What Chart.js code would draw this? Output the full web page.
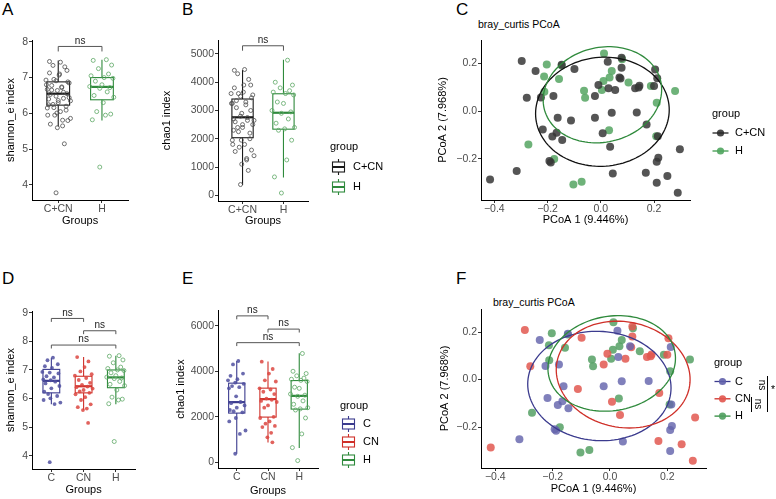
<!DOCTYPE html>
<html>
<head>
<meta charset="utf-8">
<title>alpha and beta diversity</title>
<script src="https://cdn.jsdelivr.net/npm/chart.js@4.4.1/dist/chart.umd.min.js"></script>
<style>
  body { margin: 0; width: 776px; height: 499px; position: relative; overflow: hidden; background: #fff;
         font-family: "Liberation Sans", Arial, sans-serif; }
  canvas { position: absolute; }
  .tag { position: absolute; font-size: 17px; line-height: 17px; color: #000; }
  .sub { position: absolute; font-size: 10.5px; line-height: 12px; color: #000; white-space: nowrap; }
  .bar { position: absolute; width: 1px; background: #000; }
  .rot { position: absolute; width: 14px; height: 10px; font-size: 10px; line-height: 10px; text-align: center;
         transform: rotate(90deg); white-space: nowrap; color: #000; }
</style>
</head>
<body>
<div class="tag" style="left:2px;top:1px">A</div>
<div class="tag" style="left:182px;top:1px">B</div>
<div class="tag" style="left:456px;top:1px">C</div>
<div class="tag" style="left:2px;top:270px">D</div>
<div class="tag" style="left:182px;top:270px">E</div>
<div class="tag" style="left:456px;top:270px">F</div>
<div class="sub" style="left:478px;top:18px">bray_curtis PCoA</div>
<div class="sub" style="left:493px;top:296px">bray_curtis PCoA</div>

<canvas id="chartA"></canvas>
<canvas id="chartB"></canvas>
<canvas id="chartC"></canvas>
<canvas id="chartD"></canvas>
<canvas id="chartE"></canvas>
<canvas id="chartF"></canvas>

<!-- pairwise test marks next to the F legend -->
<div class="bar" style="left:751px;top:397px;height:15px"></div>
<div class="bar" style="left:767px;top:376px;height:36px"></div>
<div class="rot" style="left:751px;top:399px">ns</div>
<div class="rot" style="left:755px;top:380px">ns</div>
<div class="sub" style="left:771px;top:383px">*</div>

<script>
var groups2 = ['C+CN', 'H'];
var groups3 = ['C', 'CN', 'H'];

// alpha diversity per sample
var shannonC  = [7.43, 7.34, 7.2, 7.13, 7.07, 6.93, 6.91, 6.88, 6.78, 6.74, 6.67, 6.64, 6.59, 6.53, 6.44, 6.36, 6.24, 6.16, 6.09, 6.01, 5.95, 5.86, 5.81, 3.78];
var shannonCN = [7.45, 7.3, 7.1, 6.95, 6.85, 6.8, 6.72, 6.65, 6.55, 6.48, 6.42, 6.4, 6.35, 6.3, 6.25, 6.2, 6.15, 6.05, 5.95, 5.8, 5.7, 5.65, 5.6, 5.15];
var shannonH  = [7.5, 7.48, 7.35, 7.25, 7.1, 7.05, 7.0, 6.98, 6.9, 6.8, 6.75, 6.72, 6.7, 6.6, 6.5, 6.45, 6.3, 6.05, 5.98, 5.95, 5.82, 4.5];
var chaoC  = [4450, 4300, 3900, 3800, 3650, 3600, 3500, 3450, 3350, 3300, 3250, 2900, 2650, 2600, 2500, 2400, 2300, 2250, 2200, 1950, 1800, 1400, 1250, 380];
var chaoCN = [4420, 4100, 3900, 3600, 3550, 3250, 3200, 3100, 3000, 2800, 2750, 2700, 2650, 2500, 2400, 2000, 1950, 1800, 1700, 1600, 1550, 1300, 1100, 880];
var chaoH  = [4780, 4000, 3900, 3800, 3700, 3650, 3600, 3550, 3300, 3250, 3000, 2950, 2900, 2700, 2550, 2400, 2350, 2300, 1950, 1250, 650, 80];

// horizontal jitter as it fell in the figure
var jitterC  = [0.05, -0.12, 0.2, -0.2, 0.02, -0.28, -0.05, 0.22, -0.15, 0.08, -0.25, -0.02, 0.12, -0.18, 0.25, 0.0, -0.22, -0.1, 0.18, -0.03, -0.24, 0.28, 0.1, -0.05];
var jitterCN = [-0.2, 0.15, 0.03, -0.1, 0.25, -0.27, 0.08, -0.15, 0.2, -0.05, 0.12, -0.22, 0.28, 0.0, -0.12, 0.18, -0.25, 0.05, -0.08, 0.22, -0.18, 0.1, -0.02, 0.14];
var jitterH  = [0.1, -0.2, 0.22, -0.08, 0.15, -0.25, 0.05, 0.25, -0.15, 0.0, -0.28, 0.18, -0.05, 0.12, -0.18, 0.27, 0.03, -0.12, 0.2, 0.08, -0.22, -0.05];

// box stats: [lower whisker, q1, median, q3, upper whisker]
var shannonBoxCCN = [5.63, 6.23, 6.55, 6.88, 7.48];
var shannonBoxC   = [5.8, 6.2, 6.62, 7.02, 7.43];
var shannonBoxCN  = [5.6, 6.2, 6.43, 6.78, 7.45];
var shannonBoxH   = [5.8, 6.38, 6.74, 7.0, 7.5];
var chaoBoxCCN = [364, 2037, 2759, 3406, 4432];
var chaoBoxC   = [380, 2164, 2645, 3478, 4455];
var chaoBoxCN  = [876, 1989, 2777, 3259, 4423];
var chaoBoxH   = [631, 2339, 2920, 3592, 4792];

// PCoA coordinates [PCoA1, PCoA2]
var pcoaC = [[-0.245, 0.167], [-0.225, 0.057], [-0.178, 0.063], [-0.147, 0.193], [-0.218, -0.077], [-0.182, -0.107],
  [-0.166, -0.091], [-0.162, -0.028], [-0.145, -0.121], [-0.022, -0.028], [0.026, 0.206], [0.029, 0.095],
  [0.041, -0.007], [0.045, -0.261], [0.070, 0.140], [0.135, -0.006], [0.212, 0.137], [0.214, -0.105],
  [0.210, -0.212], [0.216, -0.195], [0.210, -0.300], [-0.316, -0.251], [-0.188, -0.215], [-0.193, -0.209]];
var pcoaCN = [[-0.297, 0.209], [-0.278, 0.056], [-0.099, 0.176], [-0.112, -0.040], [-0.022, 0.063], [-0.009, 0.109],
  [0.007, -0.093], [0.054, 0.088], [0.035, -0.149], [0.078, 0.223], [0.078, 0.181], [0.129, 0.095],
  [0.145, 0.106], [0.169, -0.258], [0.172, -0.056], [0.200, 0.105], [0.204, 0.174], [0.250, -0.272],
  [0.297, -0.160], [0.289, -0.342], [-0.416, -0.286], [0.074, 0.136], [0.142, 0.098]];
var pcoaH = [[-0.203, 0.195], [-0.213, 0.144], [-0.212, 0.081], [-0.157, 0.134], [-0.147, 0.190], [-0.063, 0.085],
  [-0.059, 0.056], [-0.272, -0.140], [-0.175, -0.201], [-0.103, -0.307], [-0.072, -0.296], [0.012, 0.241],
  [0.010, 0.126], [0.004, 0.088], [0.033, 0.140], [0.041, 0.167], [0.031, -0.080], [0.104, 0.119],
  [0.188, 0.105], [0.210, 0.035], [0.208, -0.105], [0.279, 0.084], [0.080, 0.216]];

// 95% ellipses: centre, first and second half-axis vectors
var ellipseCCN = [0.006, -0.003, 0.251, 0.008, 0.0, 0.228];
var ellipseC   = [-0.037, -0.027, 0.25, -0.008, 0.0, 0.23];
var ellipseCN  = [0.046, 0.021, 0.233, -0.035, 0.015, 0.222];
var ellipseH   = [0.006, 0.068, 0.222, 0.035, -0.015, 0.198];

var shannonTicks2 = [4, 5, 6, 7, 8];
var shannonTicks3 = [4, 5, 6, 7, 8, 9];
var chaoTicks2 = [0, 1000, 2000, 3000, 4000, 5000];
var chaoTicks3 = [0, 2000, 4000, 6000];
var pcoaXTicks = [-0.4, -0.2, 0, 0.2];
var pcoaYTicks = [-0.2, 0, 0.2];

var colCCN = '#1a1a1a', colC = '#3b3b8e', colCN = '#cf3029', colH = '#2f8a3c';
var BOX_W = 0.52;

Chart.defaults.font.family = '"Liberation Sans", Arial, sans-serif';
Chart.defaults.animation = false;

var extras = {};

var extrasPlugin = {
  id: 'extras',
  beforeDatasetsDraw: function (chart) {
    var e = extras[chart.canvas.id];
    if (!e || !e.boxes) return;
    var ctx = chart.ctx, xs = chart.scales.x, ys = chart.scales.y;
    ctx.save();
    e.boxes.forEach(function (b) {
      var s = b.stats;
      var xc = xs.getPixelForValue(b.pos);
      var x0 = xs.getPixelForValue(b.pos - BOX_W / 2), x1 = xs.getPixelForValue(b.pos + BOX_W / 2);
      var p = function (v) { return ys.getPixelForValue(v); };
      ctx.strokeStyle = b.color;
      ctx.lineWidth = 1.1;
      ctx.beginPath();
      ctx.moveTo(xc, p(s[0])); ctx.lineTo(xc, p(s[1]));
      ctx.moveTo(xc, p(s[3])); ctx.lineTo(xc, p(s[4]));
      ctx.stroke();
      ctx.strokeRect(x0, p(s[3]), x1 - x0, p(s[1]) - p(s[3]));
      ctx.lineWidth = 2.2;
      ctx.beginPath(); ctx.moveTo(x0, p(s[2])); ctx.lineTo(x1, p(s[2])); ctx.stroke();
    });
    ctx.restore();
  },
  afterDatasetsDraw: function (chart) {
    var e = extras[chart.canvas.id];
    if (!e) return;
    var ctx = chart.ctx, xs = chart.scales.x, ys = chart.scales.y;
    ctx.save();
    (e.ellipses || []).forEach(function (el) {
      var p = el.par;
      ctx.strokeStyle = el.color;
      ctx.lineWidth = 1.3;
      ctx.beginPath();
      for (var i = 0; i <= 120; i++) {
        var t = i / 120 * Math.PI * 2;
        var px = xs.getPixelForValue(p[0] + p[2] * Math.cos(t) + p[4] * Math.sin(t));
        var py = ys.getPixelForValue(p[1] + p[3] * Math.cos(t) + p[5] * Math.sin(t));
        if (i === 0) ctx.moveTo(px, py); else ctx.lineTo(px, py);
      }
      ctx.stroke();
    });
    (e.brackets || []).forEach(function (b) {
      var xa = xs.getPixelForValue(b.x1), xb = xs.getPixelForValue(b.x2);
      var yt = ys.getPixelForValue(b.y), yd = ys.getPixelForValue(b.y - b.drop);
      ctx.strokeStyle = '#555';
      ctx.lineWidth = 1;
      ctx.beginPath();
      ctx.moveTo(xa, yd); ctx.lineTo(xa, yt); ctx.lineTo(xb, yt); ctx.lineTo(xb, yd);
      ctx.stroke();
      ctx.fillStyle = '#222';
      ctx.font = '10px "Liberation Sans", Arial, sans-serif';
      ctx.textAlign = 'center';
      ctx.textBaseline = 'bottom';
      ctx.fillText('ns', (xa + xb) / 2, yt - 0.5);
    });
    ctx.restore();
  },
  afterDraw: function (chart) {
    var e = extras[chart.canvas.id];
    if (!e || !e.legend) return;
    var L = e.legend, ctx = chart.ctx;
    ctx.save();
    ctx.translate(-e.ox, -e.oy);
    ctx.font = '11px "Liberation Sans", Arial, sans-serif';
    ctx.fillStyle = '#000';
    ctx.textAlign = 'left';
    ctx.textBaseline = 'middle';
    ctx.fillText('group', L.x, L.y);
    L.items.forEach(function (it, i) {
      var y = L.y0 + i * L.step, gx = L.x + L.gx;
      ctx.strokeStyle = it[1];
      if (L.type === 'box') {
        ctx.lineWidth = 1.1;
        ctx.beginPath();
        ctx.moveTo(gx, y - 8); ctx.lineTo(gx, y - 5);
        ctx.moveTo(gx, y + 5); ctx.lineTo(gx, y + 8);
        ctx.stroke();
        ctx.strokeRect(gx - 6, y - 5, 12, 10);
        ctx.lineWidth = 2;
        ctx.beginPath(); ctx.moveTo(gx - 6, y); ctx.lineTo(gx + 6, y); ctx.stroke();
      } else {
        ctx.lineWidth = 1.3;
        ctx.beginPath(); ctx.moveTo(gx - 8, y); ctx.lineTo(gx + 8, y); ctx.stroke();
        ctx.fillStyle = it[2];
        ctx.beginPath(); ctx.arc(gx, y, 3.6, 0, Math.PI * 2); ctx.fill();
      }
      ctx.fillStyle = '#000';
      ctx.fillText(it[0], L.x + L.tx, y);
    });
    ctx.restore();
  }
};
Chart.register(extrasPlugin);

function numFmt(v) { return String(v); }
function pcoaFmt(v) {
  if (Math.abs(v) < 1e-9) return '0.0';
  return (v < 0 ? '\u2212' : '') + Math.abs(v).toFixed(1);
}

function axis(pos, min, max, ticks, fmt, title, size) {
  var a = {
    type: 'linear', position: pos, min: min, max: max, bounds: 'data',
    afterBuildTicks: function (s) { s.ticks = ticks.map(function (v) { return {value: v}; }); },
    ticks: {color: '#4d4d4d', font: {size: 10.5}, padding: pos === 'left' ? 1 : 0,
            maxRotation: 0, autoSkip: false, callback: fmt},
    grid: {drawOnChartArea: false, drawTicks: true, tickLength: 3, color: '#333', lineWidth: 1},
    border: {display: true, color: '#000', width: 1},
    title: {display: true, text: title, color: '#000', font: {size: 11},
            padding: pos === 'left' ? {top: 4, bottom: 0} : {top: 0, bottom: 0}}
  };
  if (pos === 'left') a.afterFit = function (s) { s.width = size; };
  else a.afterFit = function (s) { s.height = size; };
  return a;
}

function catAxis(cats, size) {
  var pos = [];
  cats.forEach(function (c, i) { pos.push(i + 1); });
  return axis('bottom', 0.4, cats.length + 0.6, pos,
    function (v) { return cats[Math.round(v) - 1]; }, 'Groups', size);
}

function jitterSet(values, jitter, at, color, open) {
  return {
    data: values.map(function (v, i) { return {x: at + jitter[i], y: v}; }),
    pointRadius: open ? 2 : 1.9,
    pointBorderWidth: open ? 0.8 : 0,
    borderColor: color,
    backgroundColor: open ? 'rgba(0,0,0,0)' : color
  };
}

function pcoaSet(pts, color) {
  return {
    data: pts.map(function (p) { return {x: p[0], y: p[1]}; }),
    pointRadius: 4, pointBorderWidth: 0, backgroundColor: color, borderColor: color
  };
}

function panel(id, rect, plot, xAxis, yAxis, datasets) {
  var cv = document.getElementById(id);
  cv.width = rect.w; cv.height = rect.h;
  cv.style.left = rect.x + 'px'; cv.style.top = rect.y + 'px';
  return new Chart(cv, {
    type: 'scatter',
    data: {datasets: datasets},
    options: {
      responsive: false, events: [],
      layout: {padding: {left: 0, top: plot.t - rect.y, right: rect.x + rect.w - plot.r, bottom: 0}},
      plugins: {legend: {display: false}, tooltip: {enabled: false}},
      scales: {x: xAxis, y: yAxis}
    }
  });
}

var shannonCCN = shannonC.concat(shannonCN), chaoCCN = chaoC.concat(chaoCN);
var jitterCCN = jitterC.concat(jitterCN);

// A
extras.chartA = {ox: 0, oy: 28,
  boxes: [{pos: 1, stats: shannonBoxCCN, color: colCCN}, {pos: 2, stats: shannonBoxH, color: colH}],
  brackets: [{x1: 1, x2: 2, y: 7.87, drop: 0.14}]};
panel('chartA', {x: 0, y: 28, w: 133, h: 200}, {l: 32, t: 40, r: 131, b: 200},
  catAxis(groups2, 28),
  axis('left', 3.58, 8.05, shannonTicks2, numFmt, 'shannon_e index', 32),
  [jitterSet(shannonCCN, jitterCCN, 1, '#4d4d4d', true), jitterSet(shannonH, jitterH, 2, '#5ea866', true)]);

// B
extras.chartB = {ox: 156, oy: 28,
  boxes: [{pos: 1, stats: chaoBoxCCN, color: colCCN}, {pos: 2, stats: chaoBoxH, color: colH}],
  brackets: [{x1: 1, x2: 2, y: 5290, drop: 175}],
  legend: {type: 'box', x: 330, y: 147, y0: 167, step: 20, gx: 8.5, tx: 23,
           items: [['C+CN', colCCN], ['H', colH]]}};
panel('chartB', {x: 156, y: 28, w: 264, h: 200}, {l: 218, t: 40, r: 308, b: 201},
  catAxis(groups2, 27),
  axis('left', -202, 5494, chaoTicks2, numFmt, 'chao1 index', 62),
  [jitterSet(chaoCCN, jitterCCN, 1, '#4d4d4d', true), jitterSet(chaoH, jitterH, 2, '#5ea866', true)]);

// C
extras.chartC = {ox: 432, oy: 28,
  ellipses: [{par: ellipseCCN, color: '#111'}, {par: ellipseH, color: colH}],
  legend: {type: 'point', x: 712, y: 114, y0: 133, step: 18, gx: 8.5, tx: 23,
           items: [['C+CN', '#222', 'rgba(40,40,40,0.85)'], ['H', '#3f9a4c', 'rgba(80,165,95,0.9)']]}};
panel('chartC', {x: 432, y: 28, w: 344, h: 199}, {l: 481, t: 40, r: 690, b: 200},
  axis('bottom', -0.45, 0.335, pcoaXTicks, pcoaFmt, 'PCoA 1 (9.446%)', 27),
  axis('left', -0.372, 0.297, pcoaYTicks, pcoaFmt, 'PCoA 2 (7.968%)', 49),
  [pcoaSet(pcoaC.concat(pcoaCN), 'rgba(55,55,55,0.85)'), pcoaSet(pcoaH, 'rgba(90,167,103,0.88)')]);

// D
extras.chartD = {ox: 0, oy: 299,
  boxes: [{pos: 1, stats: shannonBoxC, color: colC}, {pos: 2, stats: shannonBoxCN, color: colCN},
          {pos: 3, stats: shannonBoxH, color: colH}],
  brackets: [{x1: 1, x2: 2, y: 8.80, drop: 0.12}, {x1: 2, x2: 3, y: 8.37, drop: 0.12},
             {x1: 1, x2: 3, y: 7.87, drop: 0.12}]};
panel('chartD', {x: 0, y: 299, w: 140, h: 198}, {l: 32, t: 311, r: 138, b: 469},
  catAxis(groups3, 28),
  axis('left', 3.54, 9.06, shannonTicks3, numFmt, 'shannon_e index', 32),
  [jitterSet(shannonC, jitterC, 1, 'rgba(80,80,160,0.85)', false),
   jitterSet(shannonCN, jitterCN, 2, 'rgba(220,70,65,0.85)', false),
   jitterSet(shannonH, jitterH, 3, '#5ea866', true)]);

// E
extras.chartE = {ox: 170, oy: 298,
  boxes: [{pos: 1, stats: chaoBoxC, color: colC}, {pos: 2, stats: chaoBoxCN, color: colCN},
          {pos: 3, stats: chaoBoxH, color: colH}],
  brackets: [{x1: 1, x2: 2, y: 6430, drop: 150}, {x1: 2, x2: 3, y: 5850, drop: 150},
             {x1: 1, x2: 3, y: 5255, drop: 150}],
  legend: {type: 'box', x: 340, y: 406, y0: 424, step: 18, gx: 8.5, tx: 23,
           items: [['C', colC], ['CN', colCN], ['H', colH]]}};
panel('chartE', {x: 170, y: 298, w: 250, h: 200}, {l: 218, t: 310, r: 318, b: 468},
  catAxis(groups3, 30),
  axis('left', -245, 6688, chaoTicks3, numFmt, 'chao1 index', 48),
  [jitterSet(chaoC, jitterC, 1, 'rgba(80,80,160,0.85)', false),
   jitterSet(chaoCN, jitterCN, 2, 'rgba(220,70,65,0.85)', false),
   jitterSet(chaoH, jitterH, 3, '#5ea866', true)]);

// F
extras.chartF = {ox: 434, oy: 297,
  ellipses: [{par: ellipseC, color: colC}, {par: ellipseCN, color: colCN}, {par: ellipseH, color: colH}],
  legend: {type: 'point', x: 714, y: 363, y0: 381.5, step: 17.3, gx: 8.5, tx: 21,
           items: [['C', colC, 'rgba(95,95,170,0.9)'], ['CN', colCN, 'rgba(225,85,78,0.9)'],
                   ['H', colH, 'rgba(80,160,95,0.9)']]}};
panel('chartF', {x: 434, y: 297, w: 342, h: 199}, {l: 481, t: 309, r: 706, b: 468},
  axis('bottom', -0.45, 0.335, pcoaXTicks, pcoaFmt, 'PCoA 1 (9.446%)', 28),
  axis('left', -0.372, 0.297, pcoaYTicks, pcoaFmt, 'PCoA 2 (7.968%)', 47),
  [pcoaSet(pcoaC, 'rgba(100,100,172,0.82)'), pcoaSet(pcoaCN, 'rgba(226,88,80,0.85)'),
   pcoaSet(pcoaH, 'rgba(85,160,100,0.85)')]);
</script>
</body>
</html>
